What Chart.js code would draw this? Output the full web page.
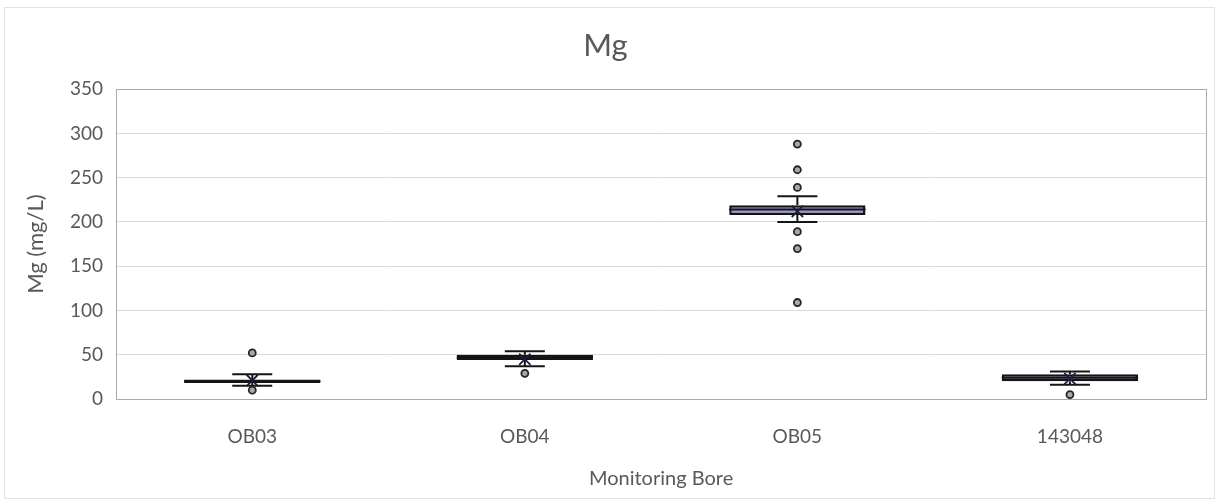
<!DOCTYPE html>
<html>
<head>
<meta charset="utf-8">
<script src="https://cdn.jsdelivr.net/npm/chart.js@4.4.1/dist/chart.umd.min.js"></script>
<style>
  html, body { margin: 0; padding: 0; background: #ffffff; }
  #wrap { width: 1216px; height: 502px; position: relative; }
</style>
</head>
<body>
<div id="wrap"><canvas id="chart" width="1216" height="502"></canvas></div>
<script>
// Magnesium concentrations per monitoring bore (mg/L), box-and-whisker summary
const categories = ['OB03', 'OB04', 'OB05', '143048'];
const lowerWhisker = [15, 37, 200, 16];
const q1 = [18, 44, 208, 20];
const medians = [20, 47, 214, 24];
const q3 = [22, 50, 219, 28];
const upperWhisker = [28, 54, 229, 31];
const means = [21, 45, 212, 23];
const outliers = [[52, 10], [29], [288, 259, 239, 189, 170, 109], [5]];
const yTicks = [0, 50, 100, 150, 200, 250, 300, 350];

const textColor = '#595959';
const fontFamily = 'Lato, "Open Sans", sans-serif';

// Whisker stems, caps and median line drawn right after the boxes
const whiskerPlugin = {
  id: 'whiskers',
  afterDatasetDraw(chart, args) {
    if (args.index !== 0) return;
    const { ctx, scales: { x, y } } = chart;
    const boxes = chart.getDatasetMeta(0).data;
    const capHalf = 20;
    ctx.save();
    ctx.strokeStyle = '#141414';
    ctx.lineWidth = 2;
    const seg = (x1, y1, x2, y2) => {
      ctx.beginPath(); ctx.moveTo(x1, y1); ctx.lineTo(x2, y2); ctx.stroke();
    };
    categories.forEach((c, i) => {
      const cx = x.getPixelForValue(i);
      const yHi = y.getPixelForValue(upperWhisker[i]);
      const yLo = y.getPixelForValue(lowerWhisker[i]);
      seg(cx, y.getPixelForValue(q3[i]), cx, yHi);
      seg(cx, y.getPixelForValue(q1[i]), cx, yLo);
      seg(cx - capHalf, yHi, cx + capHalf, yHi);
      seg(cx - capHalf, yLo, cx + capHalf, yLo);
      const half = boxes[i].width / 2;
      const ym = y.getPixelForValue(medians[i]);
      seg(cx - half, ym, cx + half, ym);
    });
    ctx.restore();
  }
};

// Plot-area frame and the light outer chart border
const framePlugin = {
  id: 'frame',
  beforeDraw(chart) {
    const { ctx } = chart;
    ctx.save();
    ctx.fillStyle = '#ffffff';
    ctx.fillRect(0, 0, chart.width, chart.height);
    ctx.strokeStyle = '#e3e3e3';
    ctx.lineWidth = 1;
    ctx.strokeRect(4.5, 7.5, chart.width - 6, chart.height - 11);
    ctx.restore();
  },
  afterDatasetsDraw(chart) {
    const { ctx, chartArea: a } = chart;
    ctx.save();
    ctx.strokeStyle = '#ababab';
    ctx.lineWidth = 1;
    ctx.strokeRect(Math.round(a.left) + 0.5, Math.round(a.top) + 0.5,
      Math.round(a.right - a.left), Math.round(a.bottom - a.top));
    ctx.restore();
  }
};

const outlierPoints = [];
outliers.forEach((list, i) => list.forEach(v => outlierPoints.push({ x: categories[i], y: v })));

new Chart(document.getElementById('chart'), {
  type: 'bar',
  data: {
    labels: categories,
    datasets: [
      {
        label: 'Interquartile range',
        data: q1.map((v, i) => [v, q3[i]]),
        backgroundColor: '#9a9ad0',
        borderColor: '#141414',
        borderWidth: 2.5,
        borderSkipped: false,
        barPercentage: 0.5,
        categoryPercentage: 1,
        order: 2
      },
      {
        type: 'line',
        label: 'Mean',
        data: categories.map((c, i) => ({ x: c, y: means[i] })),
        showLine: false,
        pointStyle: 'crossRot',
        pointRadius: 8,
        pointBorderColor: '#1c1c3c',
        pointBorderWidth: 1.8,
        order: 1
      },
      {
        type: 'line',
        label: 'Outliers',
        data: outlierPoints,
        showLine: false,
        pointStyle: 'circle',
        pointRadius: 3.5,
        pointBackgroundColor: '#a8a8a8',
        pointBorderColor: '#262626',
        pointBorderWidth: 1.8,
        order: 0
      }
    ]
  },
  options: {
    responsive: false,
    animation: false,
    events: [],
    layout: { padding: { left: 4, right: 9, top: 27, bottom: 0 } },
    plugins: {
      legend: { display: false },
      tooltip: { enabled: false },
      title: {
        display: true,
        text: 'Mg',
        color: textColor,
        font: { family: fontFamily, size: 31, weight: 'normal' },
        padding: { top: 0, bottom: 25 }
      }
    },
    scales: {
      x: {
        type: 'category',
        grid: { display: false, drawTicks: false },
        border: { display: false },
        ticks: { color: textColor, font: { family: fontFamily, size: 19 }, padding: 26, maxRotation: 0 },
        title: {
          display: true,
          text: 'Monitoring Bore',
          color: textColor,
          font: { family: fontFamily, size: 20 },
          padding: { top: 0, bottom: 11 }
        },
        afterFit(s) { s.height = 103; }
      },
      y: {
        min: 0,
        max: 350,
        afterBuildTicks(s) { s.ticks = yTicks.map(v => ({ value: v })); },
        grid: { color: '#d9d9d9', drawTicks: false },
        border: { display: false },
        ticks: { color: textColor, font: { family: fontFamily, size: 19 }, padding: 13 },
        title: {
          display: true,
          text: 'Mg (mg/L)',
          color: textColor,
          font: { family: fontFamily, size: 22 },
          padding: { top: 19, bottom: 0 }
        },
        afterFit(s) { s.width = 112; }
      }
    }
  },
  plugins: [framePlugin, whiskerPlugin]
});
</script>
</body>
</html>
